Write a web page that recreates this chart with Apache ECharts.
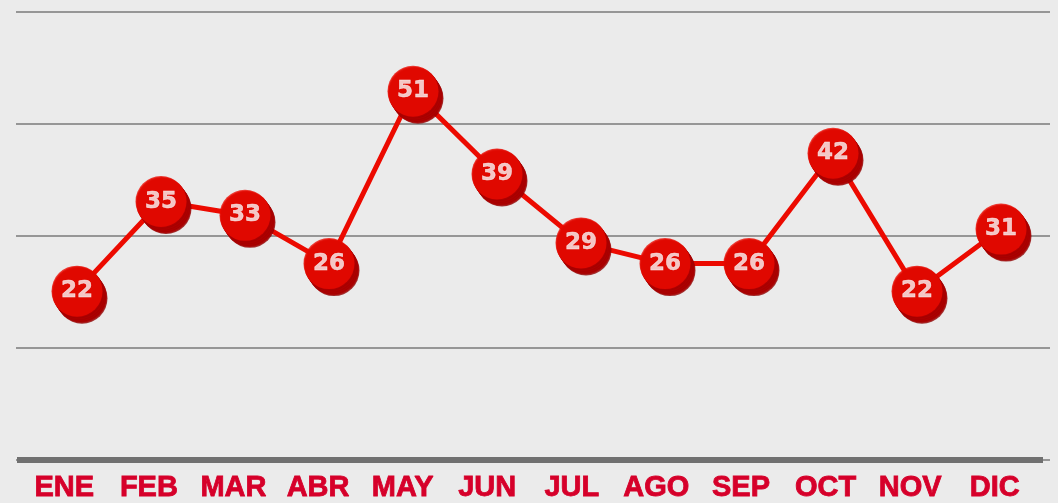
<!DOCTYPE html>
<html>
<head>
<meta charset="utf-8">
<script src="https://cdn.jsdelivr.net/npm/echarts@6/dist/echarts.min.js"></script>
<style>
  html, body { margin: 0; padding: 0; background: #ebebeb; }
  #chart { width: 1058px; height: 503px; }
</style>
</head>
<body>
<div id="chart"></div>
<script>
// Monthly values
const months = ['ENE', 'FEB', 'MAR', 'ABR', 'MAY', 'JUN', 'JUL', 'AGO', 'SEP', 'OCT', 'NOV', 'DIC'];
const values = [22, 35, 33, 26, 51, 39, 29, 26, 26, 42, 22, 31];

const RED = '#ec0a00';
const DARK_RED = '#a20000';
const CRIMSON = '#d6002a';

const chart = echarts.init(document.getElementById('chart'), null, { renderer: 'canvas' });

// Extruded "disc" look: stacked dark copies of each marker, shifted down-right
const depthSteps = 8;
const extrusion = [];
for (let k = depthSteps; k >= 1; k--) {
  extrusion.push({
    type: 'scatter',
    xAxisIndex: 3, yAxisIndex: 3,
    data: values,
    symbol: 'circle',
    symbolSize: 51,
    symbolOffset: [k * 5 / depthSteps, k * 7 / depthSteps],
    itemStyle: { color: k === depthSteps ? '#8f0000' : (k % 2 ? '#b00000' : DARK_RED) },
    silent: true,
    animation: false,
    z: 3
  });
}

chart.setOption({
  backgroundColor: '#ebebeb',
  animation: false,
  grid: [
    { left: 16, right: 8, top: 12, bottom: 43 },   // horizontal rules
    { left: 17, right: 15, top: 12, bottom: 43 },  // baseline
    { left: 22, right: 21, top: 12, bottom: 43 },  // month labels
    { left: 35, right: 15, top: 12, bottom: 43 }   // plotted line
  ],
  xAxis: [
    { gridIndex: 0, type: 'value', show: false },
    {
      gridIndex: 1, type: 'category', data: months,
      axisLine: { show: true, lineStyle: { color: '#707070', width: 6, cap: 'butt' } },
      axisTick: { show: false }, axisLabel: { show: false }
    },
    {
      gridIndex: 2, type: 'category', data: months,
      axisLine: { show: false }, axisTick: { show: false },
      axisLabel: {
        show: true, interval: 0, margin: 13, color: CRIMSON,
        fontFamily: 'Liberation Sans, Arial, sans-serif',
        fontWeight: 'bold', fontSize: 29,
        textBorderColor: CRIMSON, textBorderWidth: 0.8
      }
    },
    { gridIndex: 3, type: 'category', data: months, show: false }
  ],
  yAxis: [
    {
      gridIndex: 0, type: 'value', min: 0, max: 4, interval: 1,
      axisLine: { show: false }, axisTick: { show: false }, axisLabel: { show: false },
      splitLine: { show: true, lineStyle: { color: '#7a7a7a', width: 1.5 } }
    },
    { gridIndex: 1, type: 'value', show: false, splitLine: { show: false } },
    { gridIndex: 2, type: 'value', show: false, splitLine: { show: false } },
    { gridIndex: 3, type: 'value', min: -2.5, max: 62.5, show: false, splitLine: { show: false } }
  ],
  series: [
    {
      type: 'line',
      xAxisIndex: 3, yAxisIndex: 3,
      data: values,
      symbol: 'none',
      lineStyle: { color: RED, width: 5 },
      z: 2
    },
    ...extrusion,
    {
      type: 'scatter',
      xAxisIndex: 3, yAxisIndex: 3,
      data: values,
      symbol: 'circle',
      symbolSize: 51,
      itemStyle: { color: RED },
      label: {
        show: true, position: 'inside',
        color: '#f9f6f6',
        fontFamily: 'DejaVu Sans, sans-serif',
        fontWeight: 'bold', fontSize: 23,
        textBorderColor: '#f9f6f6', textBorderWidth: 0.5,
        formatter: p => String(p.value)
      },
      z: 4
    }
  ]
});
</script>
</body>
</html>
